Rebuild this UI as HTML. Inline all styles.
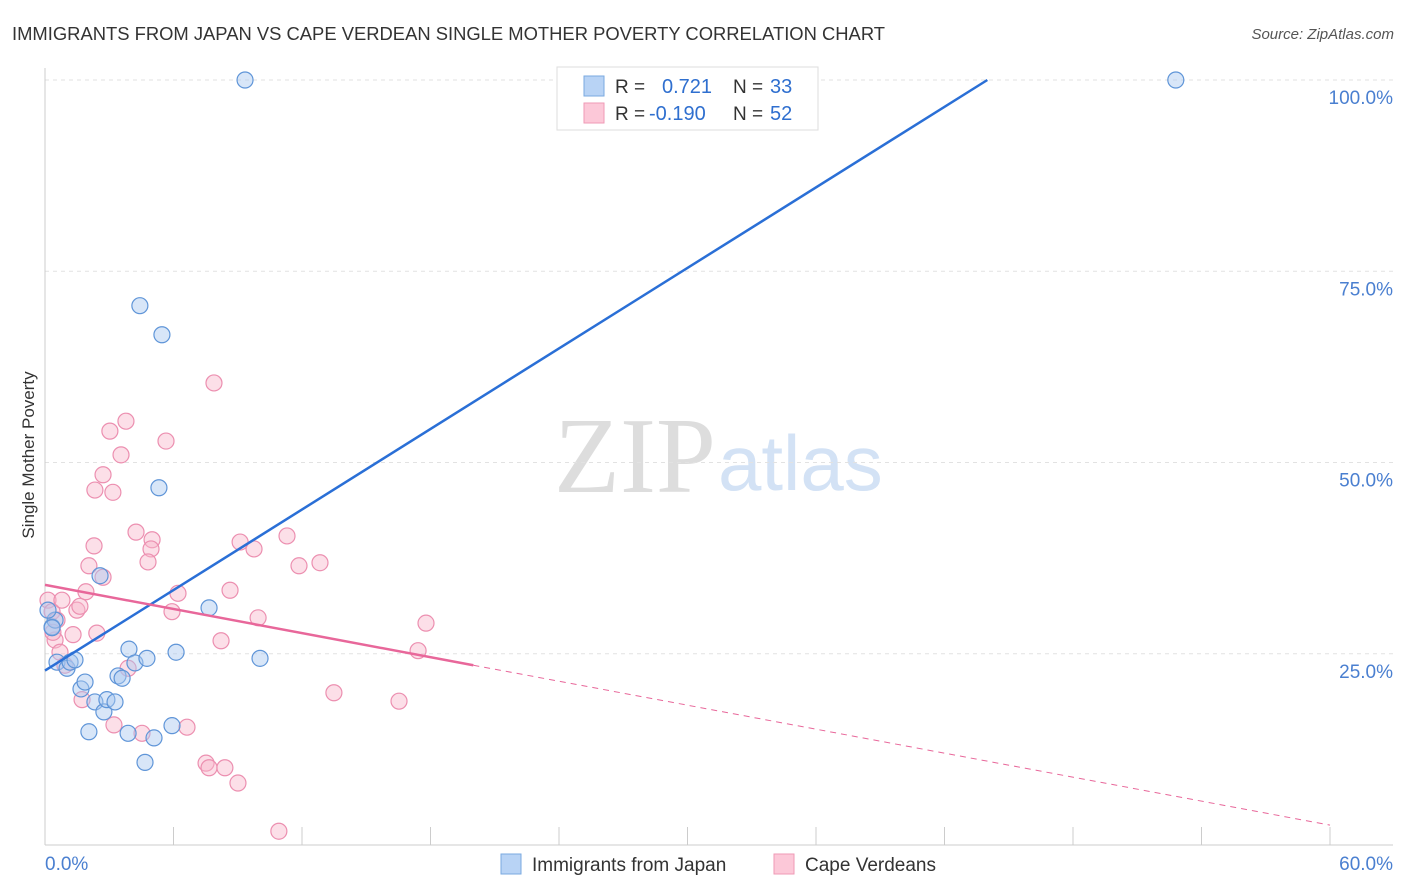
<!DOCTYPE html>
<html><head><meta charset="utf-8">
<style>
body{margin:0;background:#fff;font-family:"Liberation Sans",sans-serif;}
#wrap{position:relative;width:1406px;height:892px;overflow:hidden;}
</style></head>
<body>
<div id="wrap">
<svg id="svg" width="1406" height="892" xmlns="http://www.w3.org/2000/svg">
<text x="12" y="40" font-size="18.4" fill="#333">IMMIGRANTS FROM JAPAN VS CAPE VERDEAN SINGLE MOTHER POVERTY CORRELATION CHART</text>
<text x="1394" y="39" font-size="15" fill="#555" font-style="italic" text-anchor="end">Source: ZipAtlas.com</text>
<text x="716" y="492" font-size="108" fill="#ddd" text-anchor="end" font-family="Liberation Serif,serif">ZIP</text>
<text x="718" y="490" font-size="78" fill="#d3e2f5">atlas</text>
<text x="34" y="455" font-size="17" fill="#333" transform="rotate(-90 34 455)" text-anchor="middle">Single Mother Poverty</text>
<g id="grid"></g><g id="marks"></g><g id="lines"></g>
<g>
<rect x="557" y="67" width="261" height="63" fill="#fff" stroke="#ddd"/>
<rect x="584" y="76" width="20" height="20" fill="#b8d3f5" stroke="#7aa9e0"/>
<rect x="584" y="103" width="20" height="20" fill="#fcc8d8" stroke="#ef9ab6"/>
<text x="615" y="93" font-size="19" fill="#333">R = </text><text x="662" y="93" font-size="20" fill="#2f6fcf">0.721</text>
<text x="733" y="93" font-size="19" fill="#333">N = </text><text x="770" y="93" font-size="20" fill="#2f6fcf">33</text>
<text x="615" y="120" font-size="19" fill="#333">R = </text><text x="649" y="120" font-size="20" fill="#2f6fcf">-0.190</text>
<text x="733" y="120" font-size="19" fill="#333">N = </text><text x="770" y="120" font-size="20" fill="#2f6fcf">52</text>
</g>
<g>
<rect x="501" y="854" width="20" height="20" fill="#b8d3f5" stroke="#7aa9e0"/>
<text x="532" y="871" font-size="19" fill="#333">Immigrants from Japan</text>
<rect x="774" y="854" width="20" height="20" fill="#fcc8d8" stroke="#ef9ab6"/>
<text x="805" y="871" font-size="19" fill="#333">Cape Verdeans</text>
</g>
<text x="45" y="870" font-size="19" fill="#4a7fd0">0.0%</text>
<text x="1393" y="870" font-size="19" fill="#4a7fd0" text-anchor="end">60.0%</text>
</svg>
</div>
<script>
const yTicks=[25,50,75,100];
const yTickLabels=["25.0%","50.0%","75.0%","100.0%"];
const xTicks=[0,6,12,18,24,30,36,42,48,54,60];
const japanX=[9.34,52.8,4.43,5.46,5.32,2.57,7.66,0.33,0.47,0.56,1.03,1.17,1.40,1.68,1.87,2.33,2.75,2.89,3.27,3.41,3.60,3.92,4.20,4.76,6.12,10.04,2.05,3.88,5.09,5.93,4.67,0.14,0.33];
const japanY=[100,100,70.5,66.7,46.7,35.2,31.0,28.5,29.4,23.9,23.1,23.9,24.2,20.4,21.3,18.7,17.4,19.0,18.7,22.1,21.8,25.6,23.8,24.4,25.2,24.4,14.8,14.6,14.0,15.6,10.8,30.7,28.4];
const capeX=[0.14,0.33,0.56,0.79,0.47,0.70,0.93,1.31,1.49,1.63,1.91,2.05,2.29,2.42,1.73,2.71,2.71,2.33,3.17,3.03,3.55,3.78,4.25,5.00,4.95,4.81,6.21,5.93,5.65,7.89,8.22,8.64,9.11,9.76,9.95,11.30,11.86,12.84,13.49,16.53,17.42,17.79,3.88,3.22,4.53,6.63,7.52,7.66,8.40,9.01,10.92,0.37];
const capeY=[32.0,30.5,29.4,32.0,26.8,25.2,23.5,27.5,30.7,31.2,33.1,36.5,39.1,27.7,19.0,35.0,48.4,46.4,46.1,54.1,51.0,55.4,40.9,39.9,38.7,37.0,32.9,30.5,52.8,60.4,26.7,33.3,39.6,38.7,29.7,40.4,36.5,36.9,19.9,18.8,25.4,29.0,23.1,15.7,14.6,15.4,10.7,10.1,10.1,8.1,1.8,27.8];
const japanLine=[0,22.8,44,100];
const capeLine=[0,34.0,20,23.5,60,2.6];
const NS="http://www.w3.org/2000/svg";
const X=v=>45+v/60*1285, Y=v=>845-v*7.65;
function mk(t,a,p){const e=document.createElementNS(NS,t);for(const k in a)e.setAttribute(k,a[k]);p.appendChild(e);return e;}
const grid=document.getElementById('grid'),marks=document.getElementById('marks'),lines=document.getElementById('lines');
yTicks.forEach((t,i)=>{
 const l=mk('line',{x1:45,x2:1393,y1:Y(t),y2:Y(t),stroke:'#e2e2e2','stroke-dasharray':'4,4'},grid);
 
 
 const tx=mk('text',{x:1393,y:Y(t)+24,'font-size':19,fill:'#4a7fd0','text-anchor':'end'},grid);
 tx.textContent=yTickLabels[i];
 
 
});
const ax=mk('line',{x1:45,x2:45,y1:68,y2:845,stroke:'#ccc'},grid);


const bx=mk('line',{x1:45,x2:1393,y1:845,y2:845,stroke:'#ccc'},grid);


xTicks.forEach(t=>{
 const l=mk('line',{x1:X(t),x2:X(t),y1:827,y2:845,stroke:'#ccc'},grid);
 
 
});
function pts(xs,ys,fill,stroke,name){
 xs.forEach((x,i)=>{
  const c=mk('circle',{cx:X(x),cy:Y(ys[i]),r:8,fill:fill,'fill-opacity':0.45,stroke:stroke,'stroke-width':1.2},marks);
  
  
 });
}
pts(capeX,capeY,'#f9b9cd','#ec8fb0','cape-verdean-point');
pts(japanX,japanY,'#a9c8f0','#5f95d8','japan-point');
const jl=mk('line',{x1:X(japanLine[0]),y1:Y(japanLine[1]),x2:X(japanLine[2]),y2:Y(japanLine[3]),stroke:'#2a6fd6','stroke-width':2.5},lines);


const cl=mk('line',{x1:X(capeLine[0]),y1:Y(capeLine[1]),x2:X(capeLine[2]),y2:Y(capeLine[3]),stroke:'#e8679a','stroke-width':2.5},lines);


const cd=mk('line',{x1:X(capeLine[2]),y1:Y(capeLine[3]),x2:X(capeLine[4]),y2:Y(capeLine[5]),stroke:'#e8679a','stroke-width':1,'stroke-dasharray':'6,5'},lines);


</script>
</body></html>
